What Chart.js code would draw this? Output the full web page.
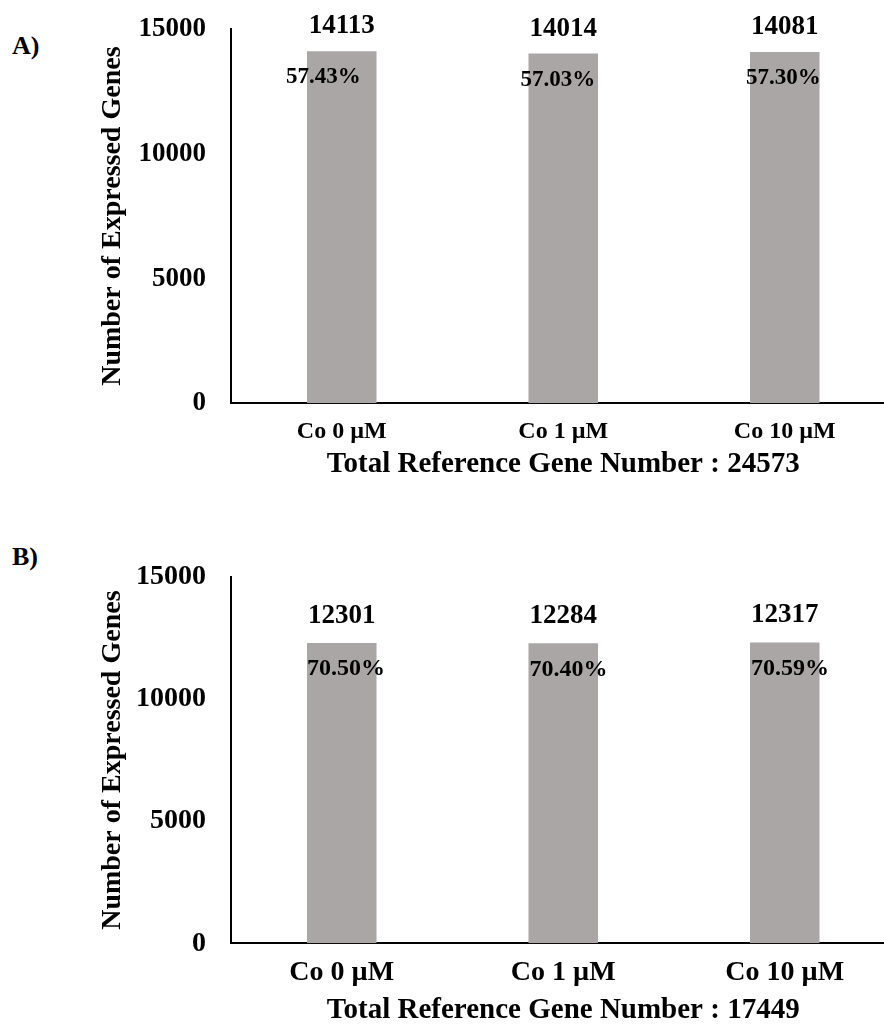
<!DOCTYPE html>
<html>
<head>
<meta charset="utf-8">
<title>Number of Expressed Genes</title>
<script src="https://cdn.jsdelivr.net/npm/chart.js@4"></script>
<style>
  html, body { margin: 0; padding: 0; background: #fff; overflow: hidden; width: 884px; height: 1030px; }
  .panel { position: absolute; left: 0; }
  .tag { position: absolute; font: bold 26px "Liberation Serif", "Times New Roman", serif; color: #000; line-height: 1; }
  canvas { display: block; }
</style>
</head>
<body>
<div class="tag" style="left:12px; top:33px;">A)</div>
<div class="tag" style="left:12px; top:544px;">B)</div>
<div class="panel" style="top:0;"><canvas id="chartA" width="910" height="490"></canvas></div>
<div class="panel" style="top:490px;"><canvas id="chartB" width="910" height="540"></canvas></div>
<script>
// Treatments and expressed-gene counts
const categories = ['Co 0 µM', 'Co 1 µM', 'Co 10 µM'];
const genesA = [14113, 14014, 14081];
const genesB = [12301, 12284, 12317];
const totalRefA = 24573;
const totalRefB = 17449;
const yTickValues = [0, 5000, 10000, 15000];

const SERIF = '"Liberation Serif", "Times New Roman", serif';
const BAR_GRAY = '#aaa6a6';

// Count above each bar, share of the reference genes inside it
const barLabels = {
  id: 'barLabels',
  afterDatasetsDraw(chart, args, opts) {
    const ctx = chart.ctx;
    const meta = chart.getDatasetMeta(0);
    const values = chart.data.datasets[0].data;
    ctx.save();
    ctx.fillStyle = '#000';
    ctx.textBaseline = 'middle';
    meta.data.forEach((bar, i) => {
      const v = values[i];
      ctx.font = `bold ${opts.valueSize}px ${SERIF}`;
      ctx.textAlign = 'center';
      ctx.fillText(String(v), bar.x, bar.y - opts.valueGap);
      const pct = (v / opts.total * 100).toFixed(2) + '%';
      ctx.font = `bold ${opts.pctSize}px ${SERIF}`;
      ctx.textAlign = 'left';
      ctx.fillText(pct, bar.x - bar.width / 2 + opts.pctShift[i], bar.y + opts.pctGap);
    });
    ctx.restore();
  }
};

function makeChart(id, values, total, cfg) {
  return new Chart(document.getElementById(id), {
    type: 'bar',
    data: {
      labels: categories,
      datasets: [{
        data: values,
        backgroundColor: BAR_GRAY,
        borderWidth: 0,
        categoryPercentage: 1,
        barPercentage: 0.314
      }]
    },
    plugins: [barLabels],
    options: {
      responsive: false,
      animation: false,
      devicePixelRatio: 1,
      events: [],
      layout: { padding: { left: 90, top: cfg.top, right: 14.5, bottom: 0 } },
      plugins: {
        legend: { display: false },
        tooltip: { enabled: false },
        barLabels: {
          total: total,
          valueSize: 27,
          valueGap: cfg.valueGap,
          pctSize: cfg.pctSize,
          pctGap: 26,
          pctShift: cfg.pctShift
        }
      },
      scales: {
        x: {
          grid: { display: false, drawTicks: false },
          border: { display: true, color: '#000', width: 2 },
          ticks: {
            color: '#000',
            padding: cfg.xTickPad,
            font: { family: SERIF, size: cfg.xTickSize, weight: 'bold', lineHeight: 1 }
          },
          title: {
            display: true,
            text: 'Total Reference Gene Number : ' + total,
            color: '#000',
            font: { family: SERIF, size: 29, weight: 'bold', lineHeight: 1 },
            padding: { top: 0, bottom: cfg.xTitlePad }
          },
          afterFit(scale) { scale.height = cfg.xHeight; }
        },
        y: {
          min: yTickValues[0],
          max: yTickValues[yTickValues.length - 1],
          afterBuildTicks(scale) { scale.ticks = yTickValues.map(v => ({ value: v })); },
          // hidden tick marks keep the labels clear of the axis line
          grid: { display: false, drawTicks: true, tickLength: 25 },
          border: { display: true, color: '#000', width: 2 },
          ticks: {
            color: '#000',
            padding: 0,
            callback: v => String(v),
            font: { family: SERIF, size: cfg.yTickSize, weight: 'bold', lineHeight: 1 }
          },
          title: {
            display: true,
            text: 'Number of Expressed Genes',
            color: '#000',
            font: { family: SERIF, size: 28, weight: 'bold', lineHeight: 1 },
            padding: { top: 9, bottom: 0 }
          },
          afterFit(scale) { scale.width = 141; }
        }
      }
    }
  });
}

makeChart('chartA', genesA, totalRefA, {
  top: 29, valueGap: 25, pctSize: 23, pctShift: [-21, -8, -4],
  xTickPad: 16.7, xTickSize: 24, xTitlePad: 11, xHeight: 86.7, yTickSize: 27
});
makeChart('chartB', genesB, totalRefB, {
  top: 87, valueGap: 27, pctSize: 24, pctShift: [0, 1, 1],
  xTickPad: 15.7, xTickSize: 28, xTitlePad: 5, xHeight: 86.7, yTickSize: 28
});
</script>
</body>
</html>
